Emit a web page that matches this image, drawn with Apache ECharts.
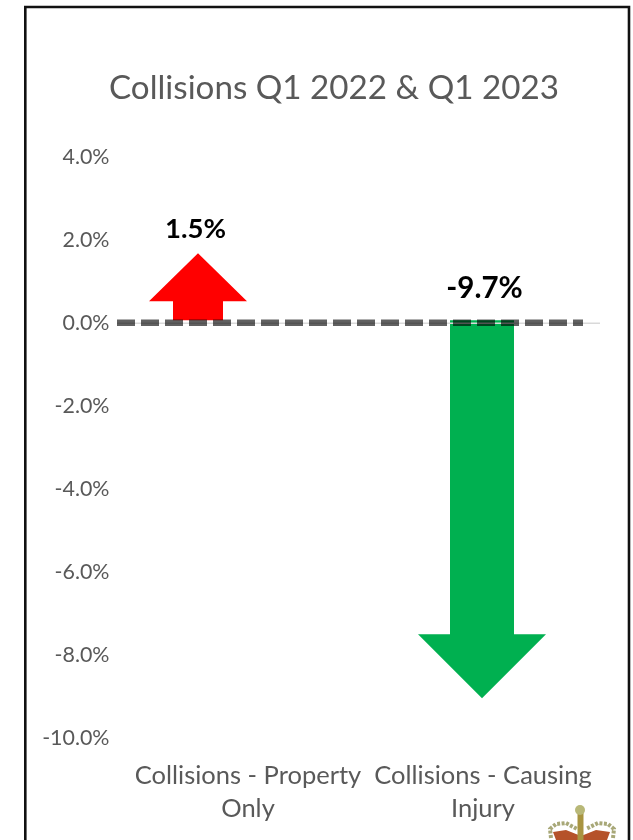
<!DOCTYPE html>
<html><head><meta charset="utf-8">
<style>html,body{margin:0;padding:0;background:#fff}#c{width:633px;height:840px}</style>
<script src="https://cdn.jsdelivr.net/npm/echarts@6/dist/echarts.min.js"></script>
</head><body><div id="c"></div>
<script>
const categories = ['Collisions - Property\nOnly', 'Collisions - Causing\nInjury'];
const changeValues = [1.5, -9.7];
const arrowTips = [1.68, -9.03];
const arrowColors = ['#ff0000', '#00b050'];
const arrowOffsets = [-50, -1];
const labelValues = [2.27, 0.83];
const labelOffsets = [-52.5, 1.5];
const labelSizes = [27.5, 29.5];
const FONT = 'Lato';
const chart = echarts.init(document.getElementById('c'));
function arrow(params, api) {
  const i = params.dataIndex;
  const c0 = api.coord([api.value(0), 0]);
  const tip = api.coord([api.value(0), api.value(1)]);
  const x = c0[0] + arrowOffsets[i];
  const up = tip[1] < c0[1];
  const base = c0[1] - 3;
  const shaftHalf = up ? 25 : 32;
  const headHalf = up ? 49 : 64;
  const headLen = up ? 48 : 64;
  const neck = tip[1] + (up ? headLen : -headLen);
  return {
    type: 'polygon',
    shape: { points: [[x - shaftHalf, base], [x + shaftHalf, base], [x + shaftHalf, neck], [x + headHalf, neck], [x, tip[1]], [x - headHalf, neck], [x - shaftHalf, neck]] },
    style: { fill: arrowColors[i] }
  };
}
function dashed(params, api) {
  const a = api.coord([0, 0]), b = api.coord([1, 0]);
  const y = a[1];
  return {
    type: 'group',
    children: [
      { type: 'line', shape: { x1: a[0] - 131, y1: y, x2: b[0] + 117, y2: y }, style: { stroke: '#d9d9d9', lineWidth: 1.5 } },
      { type: 'line', shape: { x1: a[0] - 131, y1: y - 0.3, x2: b[0] + 100, y2: y - 0.3 }, style: { stroke: 'rgba(0,0,0,0.62)', lineWidth: 6.5, lineDash: [18, 6] } }
    ]
  };
}
chart.setOption({
  animation: false,
  backgroundColor: '#fff',
  title: { text: 'Collisions Q1 2022 & Q1 2023', left: 329, top: 67, textAlign: 'center',
    textStyle: { fontFamily: FONT, fontSize: 33.2, fontWeight: 'normal', color: '#595959' } },
  grid: { left: 130.5, right: 32.5, top: 157, bottom: 101.5 },
  xAxis: { type: 'category', data: categories, position: 'bottom',
    axisLine: { show: false }, axisTick: { show: false }, splitLine: { show: false },
    axisLabel: { interval: 0, fontFamily: FONT, fontSize: 25.5, color: '#595959', lineHeight: 33, margin: 21 } },
  yAxis: { type: 'value', min: -10, max: 4, interval: 2,
    axisLine: { show: false }, axisTick: { show: false }, splitLine: { show: false },
    axisLabel: { margin: 21, fontFamily: FONT, fontSize: 21.4, color: '#595959', formatter: v => v.toFixed(1) + '%' } },
  series: [
    { type: 'custom', coordinateSystem: 'cartesian2d', clip: false, z: 2, renderItem: arrow,
      data: arrowTips.map((v, i) => [i, v]) },
    { type: 'custom', coordinateSystem: 'cartesian2d', clip: false, z: 3, renderItem: dashed, data: [[0, 0]] },
    { type: 'custom', coordinateSystem: 'cartesian2d', clip: false, z: 4,
      renderItem(params, api) {
        const i = params.dataIndex;
        const p = api.coord([api.value(0), labelValues[i]]);
        return { type: 'text', x: p[0] + labelOffsets[i], y: p[1],
          style: { text: api.value(1).toFixed(1) + '%', fill: '#000', font: 'bold ' + labelSizes[i] + 'px ' + FONT, textAlign: 'center', textVerticalAlign: 'middle' } };
      },
      data: changeValues.map((v, i) => [i, v]) }
  ],
  graphic: [
    { type: 'polyline', silent: true, shape: { points: [[25.3, 840], [25.3, 7], [629, 7], [629, 840]] }, style: { stroke: '#111', lineWidth: 2.6, fill: null } },
    { type: 'group', silent: true, children: [
      { type: 'polygon', shape: { points: [[556, 840], [553, 832], [566, 830], [581, 836], [596, 830], [610, 832], [607, 840]] }, style: { fill: '#b5522a' } },
      { type: 'polyline', shape: { points: [[551, 838], [550, 829], [556, 824], [566, 823], [577, 829]] }, style: { stroke: '#a8a878', lineWidth: 4, lineDash: [3, 1.5], fill: null } },
      { type: 'polyline', shape: { points: [[613, 838], [614, 829], [608, 824], [598, 823], [586, 829]] }, style: { stroke: '#a8a878', lineWidth: 4, lineDash: [3, 1.5], fill: null } },
      { type: 'rect', shape: { x: 577.5, y: 812, width: 6, height: 28 }, style: { fill: '#a89440' } },
      { type: 'circle', shape: { cx: 580, cy: 810, r: 5 }, style: { fill: '#b8b878' } }
    ] }
  ]
});
</script></body></html>
